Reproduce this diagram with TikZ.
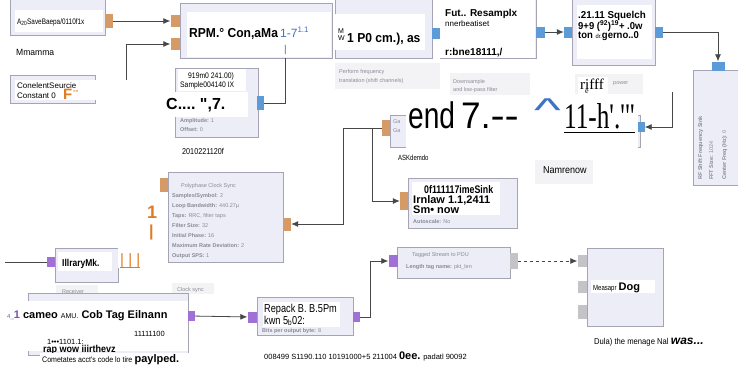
\documentclass[tikz,border=0pt]{standalone}
\usepackage{fontspec}
\usepackage{graphicx}
\setmainfont{Liberation Sans}[Ligatures=TeXOff]
\newfontfamily\serifx{Liberation Serif}[Ligatures=TeXOff]
\usetikzlibrary{arrows.meta}

\definecolor{blkfill}{HTML}{EDEDF7}
\definecolor{blkline}{HTML}{A4A4B4}
\definecolor{portor}{HTML}{D69A66}
\definecolor{portbl}{HTML}{5B9BD8}
\definecolor{portpu}{HTML}{A070D6}
\definecolor{portgr}{HTML}{C4C4C8}
\definecolor{wirec}{HTML}{474747}
\definecolor{fadetxt}{HTML}{8A8A98}
\definecolor{labbg}{HTML}{F3F3F5}
\definecolor{txtor}{HTML}{E07B22}
\definecolor{txtbl}{HTML}{3F73C4}
\definecolor{txtpu}{HTML}{7D4FB0}

\newcommand{\fsz}[1]{\fontsize{#1}{#1}\selectfont}
\newcommand{\cnd}[2][0.8]{\scalebox{#1}[1]{#2}}

\tikzset{
  blk/.style={draw=blkline, fill=blkfill, line width=0.8pt, inner sep=0pt, anchor=north west},
  port/.style={inner sep=0pt, minimum width=8pt, minimum height=12pt},
  oport/.style={port, fill=portor},
  bport/.style={port, fill=portbl},
  pport/.style={port, fill=portpu},
  gport/.style={port, fill=portgr},
  wbox/.style={fill=white, inner sep=0pt, anchor=north west},
  labbox/.style={fill=labbg, inner sep=0pt, anchor=north west},
  tx/.style={inner sep=0pt, anchor=base west, text=black},
  fd/.style={inner sep=0pt, anchor=base west, text=fadetxt, font=\fsz{5.5}},
  wire/.style={draw=wirec, line width=0.8pt},
  flow/.style={wire, -{Latex[length=7pt,width=6pt]}},
  msgflow/.style={flow, dashed},
}

\begin{document}
\begin{tikzpicture}[x=1pt,y=-1pt]
    \useasboundingbox[fill=white] (0,0) rectangle (738,365);

    % label backgrounds
    \node[labbox, minimum width=105, minimum height=26] (lb-xlat) at (335,63) {};
    \node[labbox, minimum width=80, minimum height=22] (lb-rs) at (450,73) {};
    \node[labbox, minimum width=68, minimum height=20] (lb-sq) at (575,74) {};
    \node[labbox, minimum width=58, minimum height=24] (lb-ts) at (535,160) {};
    \node[labbox, minimum width=42, minimum height=11] (lb-rx) at (56,285) {};
    \node[labbox, minimum width=42, minimum height=11] (lb-cs) at (172,283) {};

    % blocks
    \node[blk, minimum width=95, minimum height=40] (audio) at (10,-5) {};
    \node[blk, minimum width=85, minimum height=28] (const) at (10,75) {};
    \node[blk, minimum width=152, minimum height=55] (mult) at (180,3) {};
    \node[blk, minimum width=97, minimum height=61] (xlat) at (335,-3) {};
    \node[blk, minimum width=96, minimum height=63] (resamp) at (440,-5) {};
    \node[blk, minimum width=83, minimum height=70] (squelch) at (572,-5) {};
    \node[blk, minimum width=50, minimum height=115] (fsink) at (693,70) {};
    \node[blk, minimum width=83, minimum height=69] (sigsrc) at (175,68) {};
    \node[blk, minimum width=250, minimum height=32] (agc) at (390,115) {};
    \node[blk, minimum width=115, minimum height=90] (pps) at (168,172) {};
    \node[blk, minimum width=109, minimum height=50] (tsink) at (408,178) {};
    \node[blk, minimum width=63, minimum height=34] (recv) at (55,248) {};
    \node[blk, minimum width=160, minimum height=62] (corr) at (28,293) {};
    \node[blk, minimum width=96, minimum height=38] (repack) at (257,297) {};
    \node[blk, minimum width=113, minimum height=31] (tspdu) at (397,247) {};
    \node[blk, minimum width=76, minimum height=78] (msgdbg) at (587,248) {};

    % junctions
    \coordinate (multbot) at (285,58);
    \coordinate (sqtap) at (672,92);
    \coordinate (j1) at (343,128);
    \coordinate (j2) at (372,128);
    \coordinate (lft) at (5,262);

    % ports
    \node[oport, minimum height=14] (audio-out) at (109,21) {};
    \node[oport, minimum width=9] (mult-in1) at (175,21) {};
    \node[oport, minimum width=9] (mult-in2) at (175,44) {};
    \node[oport] (const-out) at (99,88) {};
    \node[bport, minimum height=11] (xlat-out) at (436,33) {};
    \node[bport, minimum width=9, minimum height=11] (resamp-out) at (540,32) {};
    \node[bport, minimum height=11] (squelch-in) at (568,32) {};
    \node[bport, minimum height=11] (squelch-out) at (659,32) {};
    \node[bport, minimum width=13, minimum height=9] (fsink-in) at (718,66) {};
    \node[bport, minimum width=7, minimum height=14] (sigsrc-out) at (260,103) {};
    \node[oport, minimum height=16] (agc-in) at (386,128) {};
    \node[bport, minimum width=7, minimum height=10] (agc-rin) at (641,127) {};
    \node[oport, minimum height=14] (pps-in) at (164,185) {};
    \node[oport, minimum height=13] (pps-out) at (287,224) {};
    \node[oport, minimum height=18] (tsink-in) at (404,201) {};
    \node[pport, minimum height=10] (recv-in) at (51,262) {};
    \node[pport, minimum width=7, minimum height=10] (corr-out) at (191,316) {};
    \node[pport, minimum width=9, minimum height=11] (repack-in) at (252,317) {};
    \node[pport, minimum width=7, minimum height=10] (repack-out) at (356,317) {};
    \node[pport, minimum width=9] (tspdu-in) at (393,261) {};
    \node[gport, minimum height=16] (tspdu-out) at (514,261) {};
    \node[gport, minimum width=9] (msg-in1) at (582,261) {};
    \node[gport, minimum width=9] (msg-in2) at (582,287) {};
    \node[gport, minimum width=9, minimum height=14] (msg-in3) at (582,312) {};

    % connections
    \draw[flow] (audio-out) -- (mult-in1);
    \draw[flow] (const-out.east) -- ++(23,0) |- (mult-in2);
    \draw[wire] (sigsrc-out) -| (multbot);
    \draw[flow] (resamp-out) -- (squelch-in);
    \draw[flow] (squelch-out) -| (fsink-in);
    \draw[flow] (sqtap) |- (agc-rin);
    \draw[wire] (agc-in) -- (j1);
    \draw[flow] (j1) |- (pps-out);
    \draw[flow] (j2) |- (tsink-in);
    \draw[wire] (lft) -- (recv-in);
    \draw[flow] (corr-out) -- (repack-in);
    \draw[flow] (repack-out.east) -- ++(11,0) |- (tspdu-in);
    \draw[msgflow] (tspdu-out) -- (msg-in1);

    % faded block texts
    \node[fd] (f-xl1) at (339,73) {Perform frequency};
    \node[fd] (f-xl2) at (339,82) {translation (shift channels)};
    \node[fd] (f-rs1) at (453,83) {Downsample};
    \node[fd] (f-rs2) at (453,91) {and low-pass filter};
    \node[fd] (f-sq) at (613,84) {power};
    \node[fd] (f-ss1) at (180,122) {\textbf{Amplitude:} 1};
    \node[fd] (f-ss2) at (180,131) {\textbf{Offset:} 0};
    \node[fd] (f-ga1) at (393,123) {Ga};
    \node[fd] (f-ga2) at (393,132) {Ga};
    \node[fd] (f-pp0) at (181,187) {Polyphase Clock Sync};
    \node[fd] (f-pp1) at (172,197) {\textbf{Samples/Symbol:} 2};
    \node[fd] (f-pp2) at (172,207) {\textbf{Loop Bandwidth:} 440.27µ};
    \node[fd] (f-pp3) at (172,217) {\textbf{Taps:} RRC, filter taps};
    \node[fd] (f-pp4) at (172,227) {\textbf{Filter Size:} 32};
    \node[fd] (f-pp5) at (172,237) {\textbf{Initial Phase:} 16};
    \node[fd] (f-pp6) at (172,247) {\textbf{Maximum Rate Deviation:} 2};
    \node[fd] (f-pp7) at (172,257) {\textbf{Output SPS:} 1};
    \node[fd] (f-rx) at (62,293) {Receiver};
    \node[fd] (f-cs) at (177,291) {Clock sync};
    \node[fd] (f-ts) at (413,223) {\textbf{Autoscale:} No};
    \node[fd] (f-tp1) at (412,256) {Tagged Stream to PDU};
    \node[fd] (f-tp2) at (406,268) {\textbf{Length tag name:} pkt\_len};
    \node[fd] (f-rp) at (262,332) {\textbf{Bits per output byte:} 8};
    \node[fd, rotate=90] (f-fs1) at (702,180) {\textbf{RF Shift Frequency Sink}};
    \node[fd, rotate=90] (f-fs2) at (713,180) {\textbf{FFT Size:} 1024};
    \node[fd, rotate=90] (f-fs3) at (726,180) {\textbf{Center Freq (Hz):} 0};

    % overlay text boxes
    \node[wbox, minimum width=88, minimum height=22] (w-audio) at (15,10) {};
    \node[tx, font=\fsz{8}] (t-audio) at (17,24) {\cnd[0.8]{A\textsubscript{20}SaveBaepa/0110f1x}};
    \node[wbox, minimum width=45, minimum height=10] (w-mm) at (15,46) {};
    \node[tx, font=\fsz{9}] (t-mm) at (16,55) {\cnd[0.95]{Mmamma}};

    \node[wbox, minimum width=113, minimum height=20] (w-const) at (15,80) {};
    \node[tx, font=\fsz{8}] (t-const1) at (17,88) {ConelentSeurcie};
    \node[tx, font=\fsz{8}] (t-const2) at (17,98) {Constant 0};
    \node[tx, font=\fsz{15}\bfseries, text=txtor] (t-constF) at (63,99) {F};
    \node[tx, font=\fsz{8}\bfseries, text=txtor] (t-constd) at (73,93) {--};

    \node[wbox, minimum width=144, minimum height=45] (w-mult) at (187,12) {};
    \node[tx, font=\fsz{13}\bfseries] (t-mult) at (189,37) {\cnd[0.93]{RPM.° Con,aMa}};
    \node[tx, font=\fsz{12}, text=txtbl] (t-multb) at (280,37) {1-7\textsuperscript{1.1}};
    \node[tx, font=\fsz{10}, text=txtbl] (t-multbar) at (284,52) {|};

    \node[wbox, minimum width=92, minimum height=36] (w-xlat) at (333,14) {};
    \node[tx, font=\fsz{7}] (t-xlM) at (338,33) {M};
    \node[tx, font=\fsz{7}] (t-xlW) at (338,40) {W};
    \node[tx, font=\fsz{13}\bfseries] (t-xlat) at (347,42) {\cnd[0.93]{1 P0 cm.), as}};

    \node[wbox, minimum width=95, minimum height=58] (w-rs) at (440,0) {};
    \node[tx, font=\fsz{10}\bfseries] (t-rs1) at (445,16) {Fut.. Resamplx};
    \node[tx, font=\fsz{8}] (t-rs2) at (445,26) {nnerbeatiset};
    \node[tx, font=\fsz{10}\bfseries] (t-rs3) at (445,55) {r:bne18111,/};

    \node[wbox, minimum width=75, minimum height=54] (w-sq) at (577,5) {};
    \node[tx, font=\fsz{10}\bfseries] (t-sq1) at (578,18) {\cnd[0.98]{.21.11 Squelch}};
    \node[tx, font=\fsz{10}\bfseries] (t-sq2) at (578,29) {\cnd[0.95]{9+9 (\textsuperscript{92})\textsuperscript{19}+ .0w}};
    \node[tx, font=\fsz{10}\bfseries] (t-sq3) at (578,38) {\cnd[0.95]{ton {\mdseries\fsz{6}dr.}gerno..0}};

    \node[wbox, minimum width=30, minimum height=19] (w-ri) at (578,77) {};
    \node[tx, font=\serifx\fsz{15}] (t-ri) at (580,89) {r\makebox[0pt][l]{\raisebox{-4pt}{\fsz{8}e}}ifff};

    \node[wbox, minimum width=68, minimum height=22] (w-ss) at (178,69) {};
    \node[tx, font=\fsz{8}] (t-ss1) at (188,78) {\cnd[0.85]{919m0 241.00)}};
    \node[tx, font=\fsz{8}] (t-ss2) at (180,87) {\cnd[0.85]{Sample004140 IX}};
    \node[wbox, minimum width=85, minimum height=25] (w-ssc) at (163,92) {};
    \node[tx, font=\fsz{16}\bfseries] (t-ssc) at (166,109) {C....\ ",7.};
    \node[wbox, minimum width=52, minimum height=11] (w-ssl) at (180,145) {};
    \node[tx, font=\fsz{8.5}] (t-ssl) at (182,154) {\cnd[0.85]{2010221120f}};

    \node[wbox, minimum width=45, minimum height=10] (w-ask) at (396,152) {};
    \node[tx, font=\fsz{7.5}] (t-ask) at (398,160) {\cnd[0.8]{ASKdemdo}};

    \node[wbox, minimum width=232, minimum height=50] (w-end) at (406,100) {};
    \node[tx, font=\fsz{37}] (t-end) at (408,128) {\cnd[0.76]{end}};
    \node[tx, font=\fsz{37}] (t-sev) at (461,128) {\cnd[0.95]{7.}\cnd[1.15]{--}};
    \node[tx, font=\fsz{30}, text=txtbl] (t-caret) at (534,121) {\scalebox{1.9}[1.1]{\textasciicircum}};
    \node[tx, font=\serifx\fsz{36}] (t-h) at (564,128) {\cnd[0.7]{11-h'.'"}};
    \draw[line width=1pt] ([yshift=-4]t-h.base west) -- ([yshift=-4]t-h.base east);

    \node[tx, font=\fsz{10}] (t-name) at (543,173) {\cnd[0.9]{Namrenow}};

    \node[wbox, minimum width=88, minimum height=33] (w-ts) at (412,182) {};
    \node[tx, font=\fsz{11}\bfseries] (t-ts1) at (424,193) {\cnd[0.8]{0f111117imeSink}};
    \node[tx, font=\fsz{11}\bfseries] (t-ts2) at (413,203) {Irnlaw 1.1,2411};
    \node[tx, font=\fsz{11}\bfseries] (t-ts3) at (413,213) {Sm• now};

    \node[wbox, minimum width=54, minimum height=19] (w-rx) at (58,252) {};
    \node[tx, font=\fsz{10}\bfseries] (t-rx) at (62,266) {\cnd[0.85]{IllraryMk.}};

    \node[wbox, minimum width=50, minimum height=65] (w-or) at (118,203) {};
    \node[tx, font=\fsz{18}\bfseries, text=txtor] (t-or1) at (147,218) {1};
    \node[tx, font=\fsz{16}\bfseries, text=txtor] (t-or2) at (149,236) {|};
    \node[tx, font=\fsz{15}, text=txtor] (t-or3) at (120,264) {| | |};
    \draw[txtor, line width=1pt] ([yshift=-3]t-or3.base west) -- ([yshift=-3]t-or3.base east);

    \node[wbox, minimum width=183, minimum height=50] (w-corr) at (5,301) {};
    \node[tx, font=\fsz{11}\bfseries] (t-corr1) at (7,318) {{\color{txtpu}\mdseries\fsz{6}4\_}{\color{txtpu}1} cameo {\mdseries\fsz{7}AMU.} Cob Tag Eilnann};
    \node[tx, font=\fsz{7.5}] (t-corr2) at (134,336) {11111100};
    \node[tx, font=\fsz{7.5}] (t-corr3) at (47,344) {1•••1101.1:};
    \node[tx, font=\fsz{10}\bfseries] (t-corr4) at (43,352) {\cnd[0.9]{rap wow iiirthevz}};
    \node[wbox, minimum width=195, minimum height=12] (w-cmt) at (40,353) {};
    \node[tx, font=\fsz{8}] (t-cmt) at (42,362) {\cnd[0.88]{Cometates acct's code lo tire} {\bfseries\fsz{11}paylped.}};

    \node[wbox, minimum width=77, minimum height=25] (w-rp) at (263,302) {};
    \node[tx, font=\fsz{11.5}] (t-rp1) at (264,312) {\cnd[0.8]{Repack B. B.5Pm}};
    \node[tx, font=\fsz{11.5}] (t-rp2) at (264,324) {\cnd[0.8]{kwn 5\textsubscript{b}02:}};

    \node[wbox, minimum width=221, minimum height=12] (w-bot) at (262,350) {};
    \node[tx, font=\fsz{7.5}] (t-bot) at (264,359) {008499 S1190.110 10191000+5 211004 {\bfseries\fsz{11}0ee.} padatl 90092};

    \node[wbox, minimum width=64, minimum height=13] (w-dbg) at (591,280) {};
    \node[tx, font=\fsz{7.5}] (t-dbg) at (593,290) {\cnd[0.8]{Measapr} {\bfseries\fsz{11}Dog}};
    \node[wbox, minimum width=133, minimum height=13] (w-dbl) at (592,334) {};
    \node[tx, font=\fsz{8.5}] (t-dbl) at (594,344) {\cnd[0.9]{Dula) the menage Nal} {\bfseries\itshape\fsz{12}was...}};
\end{tikzpicture}
\end{document}
